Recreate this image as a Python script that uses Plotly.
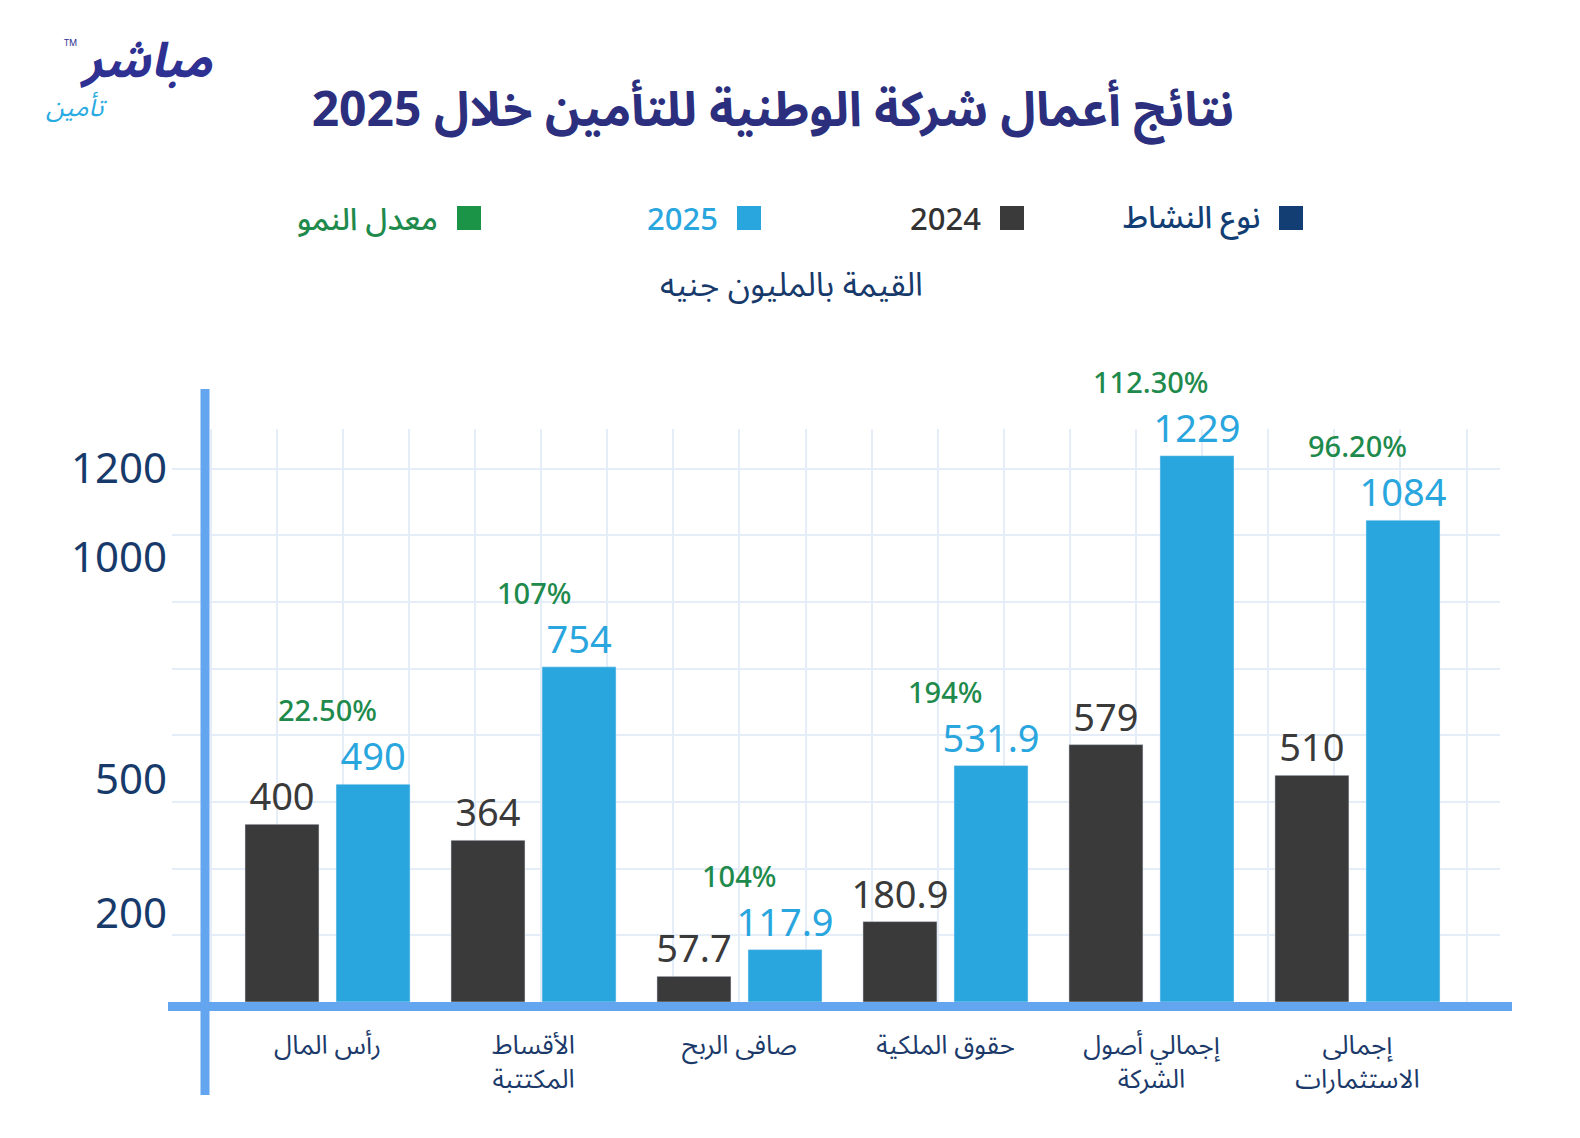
import plotly.graph_objects as go

# ---------------- data ----------------
categories = ["رأس المال", "الأقساط<br>المكتتبة", "صافى الربح", "حقوق الملكية",
              "إجمالي أصول<br>الشركة", "إجمالى<br>الاستثمارات"]
values_2024 = [400, 364, 57.7, 180.9, 579, 510]
values_2025 = [490, 754, 117.9, 531.9, 1229, 1084]
growth_labels = ["22.50%", "107%", "104%", "194%", "112.30%", "96.20%"]
y_tick_values = [200, 500, 1000, 1200]
legend_labels = ["نوع النشاط", "2024", "2025", "معدل النمو"]

title_text = "نتائج أعمال شركة الوطنية للتأمين خلال 2025"
subtitle_text = "القيمة بالمليون جنيه"

# ---------------- style ----------------
OFF = 8                      # page body margin of the html file
W, H = 1580 - OFF, 1138 - OFF
L, R, T, B = 172, 1500, 429, 1002   # plot area in reference pixels
FONT = "Noto Sans, Noto Sans Arabic, DejaVu Sans, sans-serif"
C_DARK = "#3a3a3a"
C_BLUE = "#2aa6de"
C_GREEN = "#1e8a4c"
C_NAVY = "#173a6b"
C_AXIS = "#64a5f0"
C_GRID = "#e4edf8"


def px(x):
    return (x - L) / (R - L)


def py(y):
    return (B - y) / (B - T)


xpos = list(range(len(categories)))

fig = go.Figure()
fig.add_trace(go.Bar(
    x=xpos, y=values_2024, name="2024", marker_color=C_DARK,
    text=values_2024, texttemplate="%{y}", textposition="outside",
    textfont=dict(size=38, color=C_DARK, family=FONT),
    cliponaxis=False, constraintext="none", showlegend=False,
))
fig.add_trace(go.Bar(
    x=xpos, y=values_2025, name="2025", marker_color=C_BLUE,
    text=values_2025, texttemplate="%{y}", textposition="outside",
    textfont=dict(size=38, color=C_BLUE, family=FONT),
    cliponaxis=False, constraintext="none", showlegend=False,
))

annotations = []
# growth rate labels above each group
for i, (v, g) in enumerate(zip(values_2025, growth_labels)):
    annotations.append(dict(
        x=i, y=v, xref="x", yref="y", text=g, showarrow=False,
        yanchor="bottom", xanchor="center", yshift=53,
        font=dict(size=29, color=C_GREEN, family=FONT, weight=500),
    ))

# custom RTL legend (square on the right of the text)
legend_colors = [("#123e74", "#123e74"), ("#3a3a3a", "#333333"),
                 (C_BLUE, C_BLUE), ("#1b9447", "#1e8a4c")]
legend_sq_centers = [1291, 1012, 749, 469]
shapes = []
for lab, (sqc, txc), cx in zip(legend_labels, legend_colors, legend_sq_centers):
    shapes.append(dict(type="rect", xref="paper", yref="paper",
                       x0=px(cx - 12), x1=px(cx + 12), y0=py(230), y1=py(206),
                       fillcolor=sqc, line=dict(width=0)))
    annotations.append(dict(
        x=px(cx - 29), y=py(218), xref="paper", yref="paper", text=lab,
        showarrow=False, xanchor="right", yanchor="middle",
        font=dict(size=31, color=txc, family=FONT, weight=500),
    ))

# subtitle
annotations.append(dict(
    x=px(791), y=py(283), xref="paper", yref="paper", text=subtitle_text,
    showarrow=False, xanchor="center", yanchor="middle",
    font=dict(size=33, color=C_NAVY, family=FONT),
))

# logo
annotations.append(dict(
    x=px(146), y=py(58), xref="paper", yref="paper", text="<b><i>مباشر</i></b>",
    showarrow=False, xanchor="center", yanchor="middle",
    font=dict(size=48, color="#2e3192", family=FONT),
))
annotations.append(dict(
    x=px(76), y=py(106), xref="paper", yref="paper", text="<i>تأمين</i>",
    showarrow=False, xanchor="center", yanchor="middle",
    font=dict(size=26, color="#29abe2", family=FONT),
))
annotations.append(dict(
    x=px(70), y=py(42), xref="paper", yref="paper", text="TM",
    showarrow=False, xanchor="center", yanchor="middle",
    font=dict(size=9, color="#2e3192", family=FONT),
))

# thick axis lines
shapes.append(dict(type="line", xref="paper", yref="paper",
                   x0=px(205), x1=px(205), y0=py(389), y1=py(1095),
                   line=dict(color=C_AXIS, width=9)))
shapes.append(dict(type="line", xref="paper", yref="paper",
                   x0=px(168), x1=px(1512), y0=py(1006.5), y1=py(1006.5),
                   line=dict(color=C_AXIS, width=9)))

fig.update_layout(
    width=W, height=H,
    margin=dict(l=L - OFF, r=1580 - R, t=T - OFF, b=1138 - B, pad=0),
    paper_bgcolor="white", plot_bgcolor="white",
    barmode="group", bargap=0.116, bargroupgap=0.187,
    font=dict(family=FONT, color=C_NAVY),
    title=dict(text="<b>" + title_text + "</b>", x=(773 - OFF) / W,
               y=1 - (109 - OFF) / H,
               xref="container", yref="container",
               xanchor="center", yanchor="middle",
               font=dict(size=48, color="#2b2f7e", family=FONT)),
    xaxis=dict(
        range=[-0.755, 5.692], tickmode="array", tickvals=xpos, ticktext=categories,
        showgrid=False, zeroline=False, showline=False, ticks="",
        tickfont=dict(size=26, color="#1b3a6a", family=FONT),
        ticklabelstandoff=25,
        minor=dict(tickmode="linear", tick0=-0.2466, dtick=0.3209,
                   showgrid=True, gridcolor=C_GRID, gridwidth=1.5, ticks=""),
    ),
    yaxis=dict(
        range=[0, 1289], tickmode="array", tickvals=y_tick_values,
        showgrid=False, zeroline=False, showline=False, ticks="",
        tickfont=dict(size=42, color=C_NAVY, family=FONT),
        ticklabelstandoff=4,
        minor=dict(tickmode="linear", tick0=0.001, dtick=150,
                   showgrid=True, gridcolor=C_GRID, gridwidth=1.5, ticks=""),
    ),
    shapes=shapes,
    annotations=annotations,
)

fig.write_html("out.html")
